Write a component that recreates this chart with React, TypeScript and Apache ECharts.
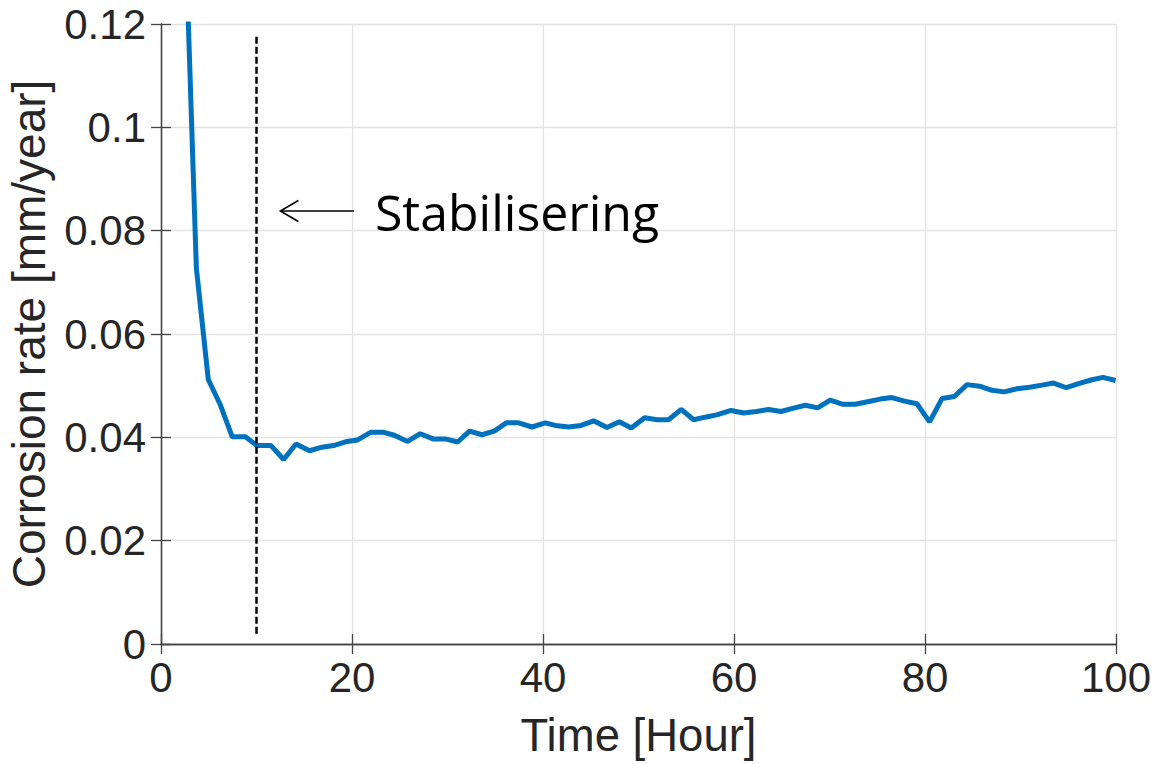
import React, { useEffect, useRef } from "react";
import * as echarts from "echarts";

const hours = [
  2.44, 3.7, 4.95, 6.21, 7.46, 8.83, 10.05, 11.52, 12.84, 14.14, 15.56, 16.86, 18.07, 19.48,
  20.59, 21.99, 23.25, 24.43, 25.82, 27.15, 28.48, 29.77, 31.06, 32.31, 33.61, 34.9, 36.16,
  37.45, 38.85, 40.24, 41.29, 42.68, 43.98, 45.3, 46.7, 47.99, 49.25, 50.64, 51.94, 53.15,
  54.48, 55.77, 56.99, 58.28, 59.69, 61.01, 62.34, 63.62, 64.92, 66.14, 67.47, 68.76, 70.08,
  71.41, 72.7, 73.99, 75.32, 76.54, 77.86, 79.16, 80.48, 81.78, 83.07, 84.4, 85.72, 87.02,
  88.3, 89.63, 90.95, 92.25, 93.46, 94.8, 96.08, 97.38, 98.64, 99.96,
];

const rates = [
  0.144, 0.0728, 0.0512, 0.0463, 0.0401, 0.0401, 0.0384, 0.0384, 0.0357, 0.0387, 0.0374,
  0.0381, 0.0384, 0.0392, 0.0395, 0.041, 0.041, 0.0404, 0.0392, 0.0407, 0.0397, 0.0397,
  0.0391, 0.0412, 0.0405, 0.0412, 0.0428, 0.0428, 0.042, 0.0428, 0.0423, 0.042, 0.0423,
  0.0432, 0.0419, 0.043, 0.0418, 0.0438, 0.0434, 0.0434, 0.0454, 0.0434, 0.0439, 0.0444,
  0.0452, 0.0447, 0.045, 0.0454, 0.045, 0.0456, 0.0462, 0.0457, 0.0472, 0.0464, 0.0464,
  0.0469, 0.0474, 0.0477, 0.047, 0.0465, 0.043, 0.0475, 0.0479, 0.0502, 0.0499, 0.0491,
  0.0488, 0.0494, 0.0497, 0.0501, 0.0505, 0.0496, 0.0504, 0.0511, 0.0516, 0.051,
];

const stabilisationHour = 10;
const stabilisationSpan = [0.002, 0.118];
const annotationText = "Stabilisering";
const arrowTailHour = 20.2;
const arrowHeadHour = 12.5;
const arrowRate = 0.0838;
const textHour = 22.4;

const xAxisName = "Time [Hour]";
const yAxisName = "Corrosion rate [mm/year]";

const FONT = "'Liberation Sans', Arial, Helvetica, sans-serif";
const AXIS_COLOR = "#262626";
const GRID_COLOR = "#e3e3e3";

export default function App() {
  const ref = useRef<HTMLDivElement>(null);

  useEffect(() => {
    if (!ref.current) return;
    const chart = echarts.init(ref.current, undefined, { renderer: "svg" });

    const axisLine = { show: true, lineStyle: { color: "#444", width: 1.3 } };
    const axisTick = { show: true, inside: true, length: 10, lineStyle: { color: "#444", width: 1.3 } };

    const option: any = {
      animation: false,
      backgroundColor: "#fff",
      grid: {
        left: 161,
        right: 42,
        top: 24,
        bottom: 120,
        containLabel: false,
        outerBoundsMode: "none",
      },
      xAxis: [
        {
          type: "value",
          min: 0,
          max: 100,
          interval: 20,
          position: "bottom",
          axisLine,
          axisTick,
          axisLabel: { fontSize: 42, color: AXIS_COLOR, fontFamily: FONT, margin: 12 },
          splitLine: { show: true, lineStyle: { color: GRID_COLOR, width: 1.3 } },
          name: xAxisName,
          nameLocation: "middle",
          nameGap: 68,
          nameTextStyle: { fontSize: 45.5, color: AXIS_COLOR, fontFamily: FONT },
        },
        {
          type: "value",
          min: 0,
          max: 100,
          interval: 20,
          position: "top",
          axisLine,
          axisTick,
          axisLabel: { show: false },
          splitLine: { show: false },
        },
      ],
      yAxis: [
        {
          type: "value",
          min: 0,
          max: 0.12,
          interval: 0.02,
          position: "left",
          axisLine,
          axisTick,
          axisLabel: { fontSize: 42, color: AXIS_COLOR, fontFamily: FONT, margin: 15 },
          splitLine: { show: true, lineStyle: { color: GRID_COLOR, width: 1.3 } },
          name: yAxisName,
          nameLocation: "middle",
          nameGap: 109,
          nameRotate: 90,
          nameTextStyle: { fontSize: 46, color: AXIS_COLOR, fontFamily: FONT },
        },
        {
          type: "value",
          min: 0,
          max: 0.12,
          interval: 0.02,
          position: "right",
          axisLine,
          axisTick,
          axisLabel: { show: false },
          splitLine: { show: false },
        },
      ],
      series: [
        {
          type: "line",
          data: hours.map((h, i) => [h, rates[i]]),
          showSymbol: false,
          clip: true,
          lineStyle: { color: "#0072BD", width: 5 },
          itemStyle: { color: "#0072BD" },
          z: 3,
        },
        {
          type: "line",
          data: stabilisationSpan.map((v) => [stabilisationHour, v]),
          showSymbol: false,
          lineStyle: { color: "#000", width: 2.5, type: [7, 3] },
          z: 4,
        },
      ],
    };

    chart.setOption(option);

    const tail = chart.convertToPixel({ gridIndex: 0 }, [arrowTailHour, arrowRate]) as number[];
    const head = chart.convertToPixel({ gridIndex: 0 }, [arrowHeadHour, arrowRate]) as number[];
    const textPos = chart.convertToPixel({ gridIndex: 0 }, [textHour, arrowRate]) as number[];

    chart.setOption({
      graphic: [
        {
          type: "line",
          shape: { x1: tail[0], y1: tail[1], x2: head[0], y2: head[1] },
          style: { stroke: "#000", lineWidth: 1.6 },
          z: 10,
        },
        {
          type: "polyline",
          shape: {
            points: [
              [head[0] + 18, head[1] - 10.5],
              [head[0], head[1]],
              [head[0] + 18, head[1] + 10.5],
            ],
          },
          style: { stroke: "#000", lineWidth: 1.6, fill: null },
          z: 10,
        },
        {
          type: "text",
          x: textPos[0],
          y: textPos[1] + 1,
          style: {
            text: annotationText,
            fontSize: 50,
            fontFamily: "'Open Sans', 'Noto Sans', sans-serif",
            fill: "#000",
            align: "left",
            verticalAlign: "middle",
          },
          z: 10,
        },
      ],
    });

    return () => chart.dispose();
  }, []);

  return (
    <div
      ref={ref}
      style={{ position: "fixed", left: 0, top: 0, width: 1158, height: 764, background: "#fff" }}
    />
  );
}
